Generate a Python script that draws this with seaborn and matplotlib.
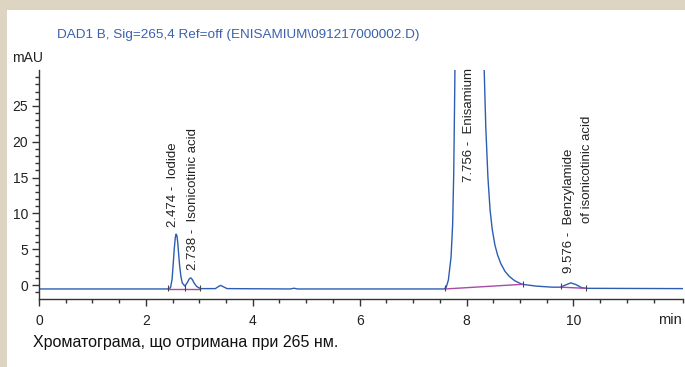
import numpy as np
import pandas as pd
import matplotlib
matplotlib.use('Agg')
import matplotlib.pyplot as plt
from matplotlib.patches import Rectangle
import seaborn as sns

# trace (min, mAU)
time_min = [0.0, 2.40, 2.46, 2.49, 2.51, 2.53, 2.55, 2.565, 2.58, 2.595, 2.61, 2.63,
            2.655, 2.68, 2.73, 2.78, 2.81, 2.84, 2.87, 2.90, 2.95, 3.02,
            3.30, 3.36, 3.40, 3.45, 3.52, 4.70, 4.77, 4.84,
            7.58, 7.62, 7.66, 7.71, 7.74, 7.76, 7.78, 7.80,
            7.90, 8.05, 8.20, 8.30, 8.33, 8.36, 8.40, 8.44, 8.48, 8.53,
            8.58, 8.64, 8.72, 8.80, 8.90, 9.04, 9.30, 9.60, 9.76, 9.85,
            9.95, 10.05, 10.15, 10.23, 12.05]
signal_mau = [-0.55, -0.55, -0.4, 0.8, 2.8, 5.0, 6.6, 7.1, 6.9, 6.0, 4.6, 2.8,
              1.2, 0.3, -0.15, 0.4, 0.85, 1.0, 0.75, 0.3, -0.2, -0.5,
              -0.5, -0.2, -0.05, -0.25, -0.5, -0.55, -0.45, -0.55,
              -0.55, -0.3, 0.7, 3.9, 8.5, 15.6, 28.0, 45.0,
              90.0, 110.0, 85.0, 40.0, 30.0, 22.0, 15.0, 10.5, 7.8, 5.6,
              4.2, 3.0, 1.9, 1.2, 0.6, 0.1, -0.15, -0.3, -0.3, 0.0,
              0.3, 0.05, -0.35, -0.46, -0.5]

# integration baselines
base_t = [[2.42, 3.01], [7.60, 9.05], [9.76, 10.23]]
base_y = [[-0.55, -0.55], [-0.55, 0.1], [-0.3, -0.46]]
mark_t = [2.42, 2.73, 3.01, 7.60, 9.05, 9.76, 10.23]
mark_y = [-0.45, -0.45, -0.45, -0.45, 0.2, -0.2, -0.36]

# peak labels
label_text = ['2.474 -  Iodide', '2.738 -  Isonicotinic acid', '7.756 -  Enisamium',
              '9.576 -  Benzylamide', 'of isonicotinic acid']
label_x = [2.50, 2.88, 8.05, 9.92, 10.26]
label_y = [8.1, 2.1, 14.4, 1.7, 8.6]

sns.set_style('ticks')
plt.rcParams['font.family'] = ['Liberation Sans', 'DejaVu Sans']

fig = plt.figure(figsize=(6.85, 3.67), dpi=100, facecolor='#ddd5c2')
fig.patches.append(Rectangle((7 / 685, 0), 1, 1 - 10 / 367, transform=fig.transFigure,
                             facecolor='white', edgecolor='none', zorder=-10))
ax = fig.add_axes([39 / 685, 1 - 299 / 367, 644 / 685, 229 / 367])
ax.set_zorder(2)
ax.set_facecolor('none')

df = pd.DataFrame({'t': time_min, 'y': signal_mau})
sns.lineplot(data=df, x='t', y='y', ax=ax, color='#2d5db3', linewidth=1.0)

for bt, by in zip(base_t, base_y):
    ax.plot(bt, by, color='#a64ca6', linewidth=1.0, zorder=3)
ax.plot(mark_t, mark_y, linestyle='none', marker='|', markersize=4,
        color='#444444', markeredgewidth=0.8, zorder=4)

for txt, x, y in zip(label_text, label_x, label_y):
    ax.text(x, y, txt, rotation=90, ha='center', va='bottom', fontsize=9.5,
            color='#222222', clip_on=False)

ax.set_xlim(0, 12.05)
ax.set_ylim(-1.95, 30.0)
ax.set_xticks(np.arange(0, 11, 2))
ax.set_xticks(list(np.arange(0, 12.0, 0.5)) + [12.05], minor=True)
ax.set_yticks(np.arange(0, 26, 5))
ax.set_yticks(np.arange(-1, 30, 1), minor=True)
ax.set_xlabel('')
ax.set_ylabel('')
sns.despine(ax=ax)
for s in ['left', 'bottom']:
    ax.spines[s].set_color('#333333')
    ax.spines[s].set_linewidth(1.0)
ax.tick_params(axis='x', which='major', length=5, width=1, pad=6,
               labelsize=10, colors='#333333', labelcolor='#222222')
ax.tick_params(axis='x', which='minor', length=3, width=1, colors='#333333')
ax.tick_params(axis='y', which='major', length=5, width=1, pad=3,
               labelsize=10, colors='#333333', labelcolor='#222222')
ax.tick_params(axis='y', which='minor', length=3, width=1, colors='#333333')

fig.text(57 / 685, 1 - 35 / 367, 'DAD1 B, Sig=265,4 Ref=off (ENISAMIUM\\091217000002.D)',
         color='#3b62ad', fontsize=9.7, ha='left', va='center')
fig.text(12 / 685, 1 - 58 / 367, 'mAU', fontsize=10, color='#222222', ha='left', va='center')
fig.text(670 / 685, 1 - 320 / 367, 'min', fontsize=10.5, color='#222222',
         ha='center', va='center')
fig.text(33 / 685, 1 - 343 / 367, 'Хроматограма, що отримана при 265 нм.',
         fontsize=11.5, color='#111111', ha='left', va='center')

fig.savefig('out.png', dpi=100, facecolor=fig.get_facecolor())
